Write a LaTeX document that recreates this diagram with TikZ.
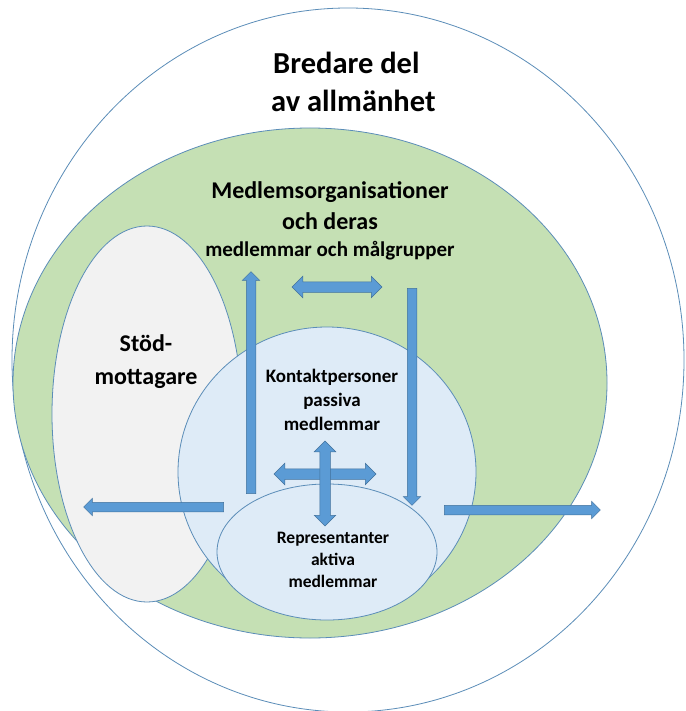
\documentclass[tikz,border=0pt]{standalone}
\usepackage{fontspec}
\setmainfont{Carlito}
\usetikzlibrary{shapes.arrows}

\definecolor{ringblue}{HTML}{5B8DB8}
\definecolor{orggreen}{HTML}{C5E0B4}
\definecolor{stodgray}{HTML}{F2F2F2}
\definecolor{kontaktblue}{HTML}{DEEBF7}
\definecolor{arrowfill}{HTML}{5B9BD5}
\definecolor{arrowedge}{HTML}{41719C}

\tikzset{
  ring/.style={draw=ringblue, line width=0.8pt},
  flowarrow/.style={single arrow, draw=arrowedge, fill=arrowfill, line width=0.5pt,
    inner sep=0pt, inner ysep=4.5pt, single arrow head extend=4pt, text height=0pt, text depth=0pt},
  swaparrow/.style={double arrow, draw=arrowedge, fill=arrowfill, line width=0.5pt,
    inner sep=0pt, inner ysep=5pt, double arrow head extend=5.5pt, text height=0pt, text depth=0pt},
  label/.style={align=center, inner sep=0pt}
}

\begin{document}
\begin{tikzpicture}[x=1pt, y=-1pt]

    \useasboundingbox (0, 0) rectangle (685, 711);

    % Centres of the rings
    \coordinate (P) at (348, 360);
    \coordinate (M) at (310, 383);
    \coordinate (S) at (147, 414);
    \coordinate (K) at (327, 472);
    \coordinate (R) at (327, 552);

    % Draw the outer ring for the public
    \draw[ring, fill=white] (P) ellipse [x radius=336pt, y radius=352pt];

    % Draw the member organisations
    \draw[ring, fill=orggreen] (M) ellipse [x radius=297pt, y radius=255pt];

    % Draw the support receivers
    \draw[ring, fill=stodgray] (S) ellipse [x radius=95pt, y radius=188pt];

    % Draw the contact persons and the representatives
    \draw[ring, fill=kontaktblue] (K) ellipse [x radius=149pt, y radius=145pt];
    \draw[ring, fill=kontaktblue] (R) ellipse [x radius=110pt, y radius=68pt];

    % Block arrows between the groups
    \node[flowarrow, minimum height=222pt, rotate=90] (up) at (251, 385) {};
    \node[flowarrow, minimum height=217pt, rotate=-90] (down) at (412, 394.5) {};
    \node[flowarrow, minimum height=140pt, rotate=180] (left) at (156, 507) {};
    \node[flowarrow, minimum height=156pt] (right) at (520, 510) {};
    \node[swaparrow, minimum height=90pt] (top) at (337, 287) {};
    \node[swaparrow, minimum height=102pt] (mid) at (325, 474) {};
    \node[swaparrow, minimum height=85pt, rotate=90] (cross) at (325, 483.5) {};

    % Add text labels exactly as they appear in the image
    \node[label, align=left, anchor=north west, font=\bfseries\fontsize{30.5}{38}\selectfont]
      (public) at (273, 52) {Bredare del\\\hspace*{-2pt}av allmänhet};
    \node[label, font=\bfseries\fontsize{24}{31}\selectfont] (org) at (330, 221)
      {Medlemsorganisationer\\och deras\\[-4pt]
       \fontsize{21}{28}\selectfont medlemmar och målgrupper};
    \node[label, font=\bfseries\fontsize{24}{33}\selectfont] (stod) at (146, 362)
      {Stöd-\\mottagare};
    \node[label, font=\bfseries\fontsize{19}{24}\selectfont] (kontakt) at (332, 400)
      {Kontaktpersoner\\passiva\\medlemmar};
    \node[label, font=\bfseries\fontsize{17.5}{22}\selectfont] (repr) at (333, 560)
      {Representanter\\aktiva\\medlemmar};

\end{tikzpicture}
\end{document}
